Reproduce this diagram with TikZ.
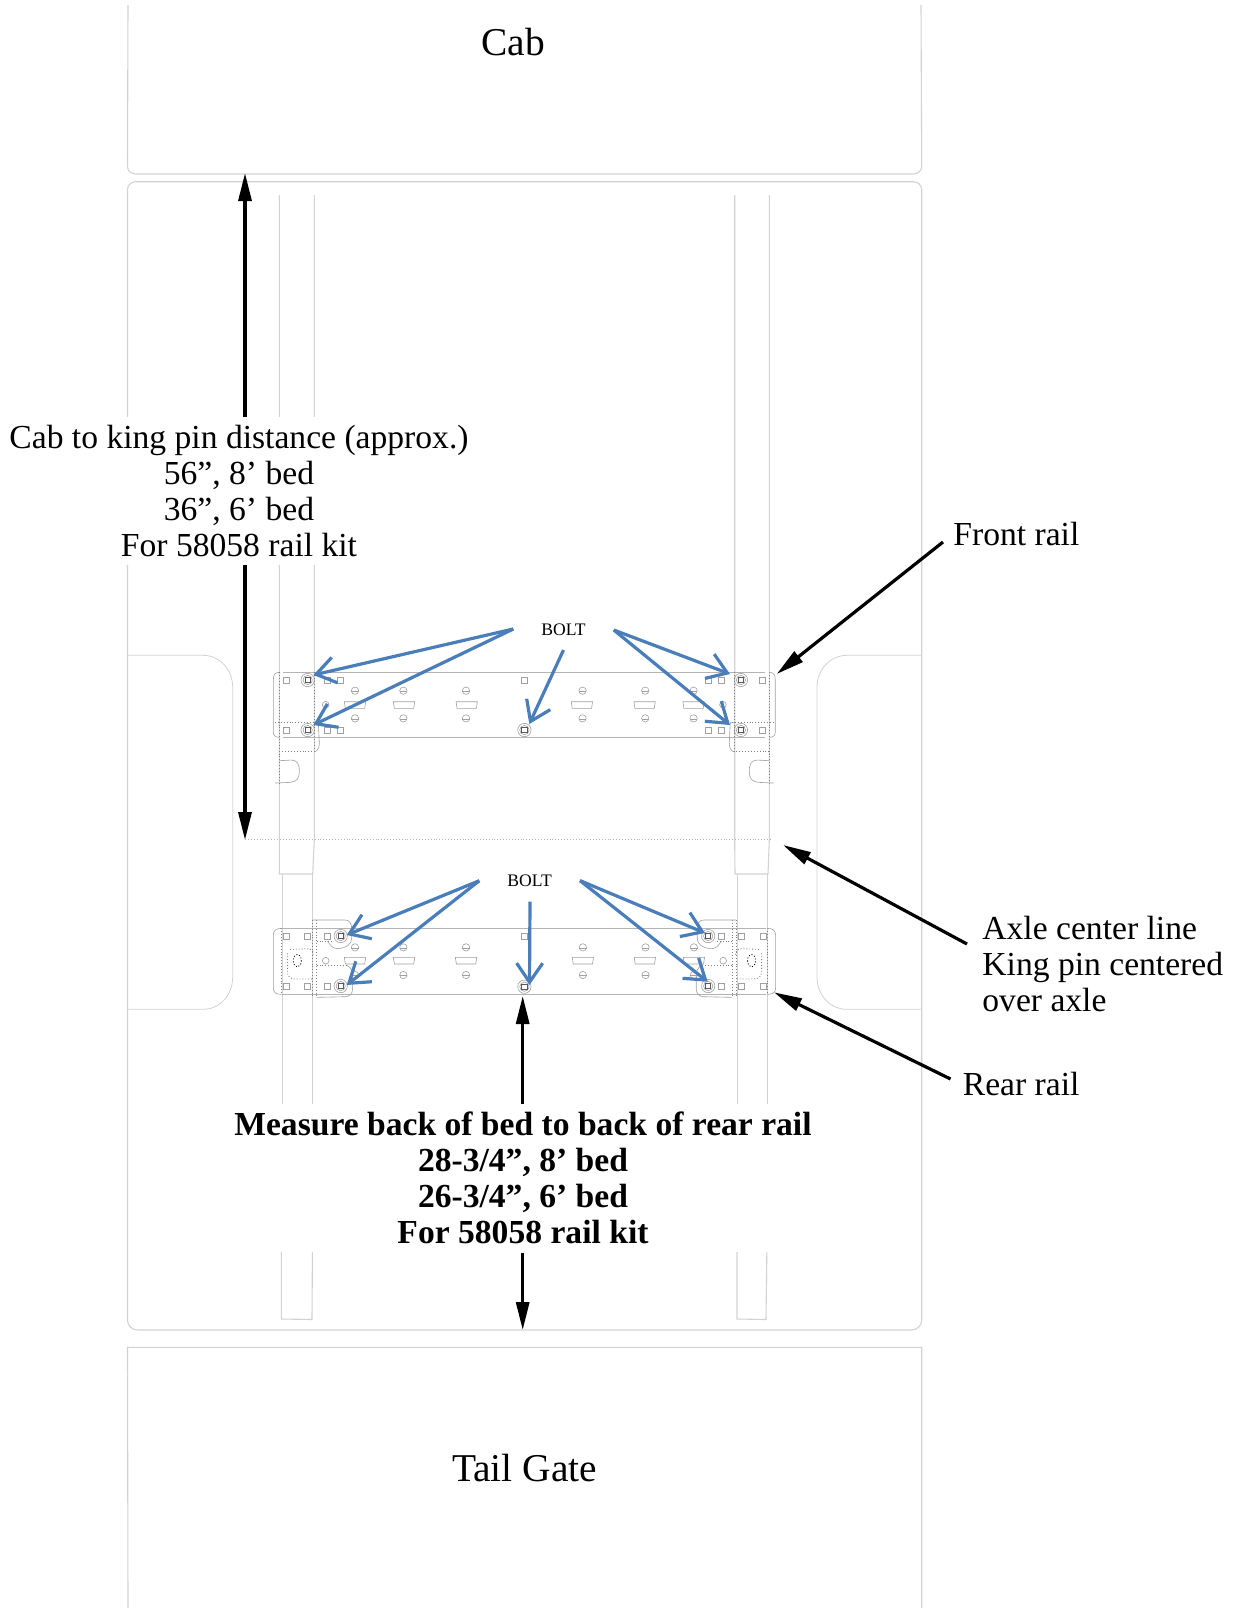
\documentclass[tikz,border=0pt]{standalone}
\usepackage{fontspec}
\setmainfont{Liberation Serif}
\usetikzlibrary{arrows.meta}
\definecolor{linegray}{HTML}{D2D2D2}
\definecolor{railgray}{HTML}{B4B4B4}
\definecolor{detailgray}{HTML}{A0A0A0}
\definecolor{boltblue}{HTML}{4A7EBB}
\tikzset{
 outline/.style={draw=linegray,line width=0.55pt},
 wellline/.style={draw=linegray,line width=0.4pt},
 axleline/.style={draw=railgray,line width=0.45pt,densely dotted},
 plate/.style={draw=railgray,line width=0.4pt},
 detail/.style={draw=detailgray,line width=0.3pt},
 seam/.style={draw=gray,line width=0.45pt,densely dotted},
 callout/.style={draw=black,line width=1.6pt,-{Triangle[length=14pt,width=6.5pt]}},
 boltarrow/.style={draw=boltblue,line width=1.6pt,-{Straight Barb[length=9.5pt,width=13pt,line width=1.6pt]}},
 label/.style={font=\fontsize{16.8}{18}\selectfont,inner sep=0pt},
 dimtext/.style={font=\fontsize{16.8}{18}\selectfont,align=center,fill=white,inner xsep=1pt,inner ysep=4pt},
 boltlabel/.style={font=\fontsize{8.8}{10}\selectfont,inner sep=0pt},
 titletext/.style={font=\fontsize{19.7}{21}\selectfont,inner sep=0pt},
}
\newcommand{\sq}[2]{\draw[detail] (#1-9,#2-9) rectangle (#1+9,#2+9);}
\newcommand{\hole}[2]{\draw[detail] (#1,#2) circle (11);\draw[detail] (#1-11,#2+2) -- (#1+11,#2+2);}
\newcommand{\slot}[2]{\draw[detail] (#1-32,#2-10) -- (#1+32,#2-10) -- (#1+29,#2+10) -- (#1-29,#2+10) -- cycle;}
\newcommand{\bolt}[2]{\draw[detail] (#1,#2) circle (20);\draw[detail] (#1,#2) circle (14);\draw[draw=black!65,line width=0.45pt] (#1-8,#2-8) rectangle (#1+8,#2+8);}
\newcommand{\frontHalf}{%
 \sq{108}{240}\sq{108}{390}\sq{232}{240}\sq{270}{240}\sq{232}{390}\sq{270}{390}
 \hole{315}{272}\hole{460}{272}\hole{648}{272}\hole{315}{355}\hole{460}{355}\hole{648}{355}
 \slot{315}{315}\slot{462}{315}\slot{650}{315}
 \draw[detail] (227,314) circle (10);
 \bolt{173}{240}\bolt{173}{390}
 \draw[seam] (88,217) -- (88,548);
 \draw[seam] (193,217) -- (193,455);
 \draw[seam] (75,368) -- (205,368);
 \draw[seam] (88,455) -- (193,455);
 \draw[detail] (88,217) .. controls (74,217) and (70,225) .. (70,240) -- (70,395) .. controls (70,405) and (74,412) .. (88,412);
 \draw[detail] (193,368) -- (205,368) -- (208,430) .. controls (208,445) and (200,455) .. (193,455);
 \draw[detail] (88,482) -- (125,480) .. controls (142,482) and (148,490) .. (148,515) .. controls (148,535) and (140,545) .. (120,547) -- (75,549);
}
\newcommand{\rearHalf}{%
 \sq{108}{230}\sq{173}{230}\sq{232}{230}\sq{108}{380}\sq{173}{380}\sq{232}{380}
 \hole{315}{262}\hole{460}{262}\hole{648}{262}\hole{315}{345}\hole{460}{345}\hole{648}{345}
 \slot{315}{302}\slot{462}{302}\slot{648}{302}
 \draw[detail] (227,302) circle (10);
 \bolt{272}{228}\bolt{272}{378}
 \draw[seam] (95,205) -- (95,403);
 \draw[seam] (188,180) -- (188,412);
 \draw[seam] (200,180) -- (200,412);
 \draw[seam] (200,243) -- (250,243);
 \draw[seam] (200,316) -- (290,316);
 \draw[seam] (120,268) -- (170,266) .. controls (185,266) and (190,272) .. (190,285);
 \draw[seam] (112,280) -- (112,335) .. controls (112,350) and (122,357) .. (135,357) -- (188,357);
 \draw[black,line width=0.45pt,densely dotted] (142,302) ellipse (12 and 19);
 \draw[detail] (95,205) .. controls (78,205) and (70,212) .. (70,225) -- (70,385) .. controls (70,397) and (78,403) .. (95,403);
 \draw[detail] (188,180) -- (285,180) .. controls (298,180) and (305,190) .. (305,205) -- (305,235) .. controls (305,252) and (290,264) .. (262,266) .. controls (245,266) and (240,252) .. (232,243);
 \draw[detail] (290,316) .. controls (305,322) and (308,335) .. (308,350) -- (308,385) .. controls (308,402) and (298,410) .. (285,410) -- (200,412);
}
\begin{document}
\begin{tikzpicture}[x=0.5pt,y=-0.5pt]
\useasboundingbox (0,0) rectangle (1242,1608);
% cab
\draw[outline] (128,5) -- (127.5,166) .. controls (127.5,171) and (131,174) .. (136,174) -- (913,174) .. controls (918,174) and (921.7,171) .. (921.7,166) -- (921,5);
% bed
\draw[outline] (127.5,1320) -- (127.5,190) .. controls (127.5,185) and (131,181.7) .. (136,181.7) -- (913,181.7) .. controls (918,181.7) and (921.7,185) .. (921.7,190) -- (921.7,1320) .. controls (921.7,1326) and (917,1330) .. (911,1330) -- (138,1330) .. controls (132,1330) and (127.5,1326) .. (127.5,1320);
% wheel wells
\draw[wellline] (127.5,655.3) -- (203,655.3) .. controls (220,655.3) and (232.7,670) .. (232.7,687) -- (232.7,977) .. controls (232.7,995) and (220,1009.3) .. (203,1009.3) -- (127.5,1009.3);
\draw[wellline] (921.7,655.3) -- (847,655.3) .. controls (830,655.3) and (817,670) .. (817,687) -- (817,977) .. controls (817,995) and (830,1009.3) .. (847,1009.3) -- (921.7,1009.3);
% tail gate
\draw[outline] (128,1608) -- (127.5,1347.3) -- (921.7,1347.3) -- (921.7,1608);
% bed rails
\draw[outline] (279.3,195) -- (279.3,840) -- (279.3,874) -- (312.7,874) -- (314.3,840) -- (314.3,195);
\draw[outline] (734.7,195) -- (734.7,840) -- (735,874) -- (768,874) -- (769.3,840) -- (769.3,195);
\draw[outline] (282.3,874) -- (282.3,1120);
\draw[outline] (312.7,874) -- (312.7,1120);
\draw[outline] (737.3,874) -- (737.3,1120);
\draw[outline] (767.7,874) -- (767.7,1120);
\draw[outline] (281.3,1240) -- (281.3,1319) -- (312,1319.5) -- (312.5,1240);
\draw[outline] (737,1240) -- (737,1319) -- (766,1319.5) -- (767,1240);
% axle centre line
\coordinate (axleL) at (245,839.3);
\coordinate (axleR) at (772,839.3);
\draw[axleline] (axleL) -- (axleR);
% rail plates
\draw[plate] (283,672.3) -- (765,672.3);
\draw[plate] (283,737.7) -- (765,737.7);
\draw[plate] (282,928.3) -- (766,928.3);
\draw[plate] (282,994.3) -- (766,994.3);
\begin{scope}[shift={(250,600)},x=0.1667pt,y=-0.1667pt]\frontHalf\end{scope}
\begin{scope}[shift={(798.6,600)},x=-0.1667pt,y=-0.1667pt]\frontHalf\end{scope}
\begin{scope}[shift={(250,860)},x=0.1667pt,y=-0.1667pt]\rearHalf\end{scope}
\begin{scope}[shift={(798.9,860)},x=-0.1667pt,y=-0.1667pt]\rearHalf\end{scope}
\begin{scope}[shift={(250,600)},x=0.1667pt,y=-0.1667pt]\sq{823}{240}\bolt{823}{390}\end{scope}
\begin{scope}[shift={(250,860)},x=0.1667pt,y=-0.1667pt]\sq{823}{230}\bolt{823}{380}\end{scope}
% texts
\node[dimtext] (cabdist) at (239,491) {Cab to king pin distance (approx.)\\56”, 8’ bed\\36”, 6’ bed\\For 58058 rail kit};
\node[dimtext,font=\fontsize{16.8}{18}\selectfont\bfseries] (backdist) at (523,1178.3) {Measure back of bed to back of rear rail\\28-3/4”, 8’ bed\\26-3/4”, 6’ bed\\For 58058 rail kit};
\node[titletext] (cab) at (513,42) {Cab};
\node[titletext] (tail) at (524.5,1468) {Tail Gate};
\node[label,anchor=west] (front) at (953,534) {Front rail};
\node[label,anchor=west,align=left] (axletext) at (982,964) {Axle center line\\King pin centered\\over axle};
\node[label,anchor=west] (rear) at (962.5,1084.3) {Rear rail};
\node[boltlabel] (bolt1) at (563.5,630) {BOLT};
\node[boltlabel] (bolt2) at (529.6,880.7) {BOLT};
% black arrows
\coordinate (cabedge) at (245,173);
\coordinate (axlemark) at (245,840);
\coordinate (plateback) at (522.7,996);
\coordinate (bedback) at (522.7,1330);
\coordinate (frontS) at (943,542);
\coordinate (frontE) at (776.7,674);
\coordinate (axleS) at (967,944);
\coordinate (axleE) at (783,845);
\coordinate (rearS) at (950.5,1079);
\coordinate (rearE) at (774,992.3);
\draw[callout] (cabedge |- cabdist.north) -- (cabedge);
\draw[callout] (cabedge |- cabdist.south) -- (axlemark);
\draw[callout] (plateback |- backdist.north) -- (plateback);
\draw[callout] (plateback |- backdist.south) -- (bedback);
\draw[callout] (frontS) -- (frontE);
\draw[callout] (axleS) -- (axleE);
\draw[callout] (rearS) -- (rearE);
% blue arrows
\coordinate (fl) at (513.3,629);
\coordinate (fm) at (563.5,650);
\coordinate (fr) at (613.8,630);
\coordinate (rl) at (479.3,880.7);
\coordinate (rm) at (530,901.7);
\coordinate (rr) at (580,880.6);
\draw[boltarrow] (fl) -- (313.3,675);
\draw[boltarrow] (fl) -- (313.3,725);
\draw[boltarrow] (fm) -- (529.3,724);
\draw[boltarrow] (fr) -- (730,674);
\draw[boltarrow] (fr) -- (730,725);
\draw[boltarrow] (rl) -- (346.7,935);
\draw[boltarrow] (rl) -- (346.7,985);
\draw[boltarrow] (rm) -- (529.5,985);
\draw[boltarrow] (rr) -- (705,933);
\draw[boltarrow] (rr) -- (707.7,981.7);
\end{tikzpicture}
\end{document}
